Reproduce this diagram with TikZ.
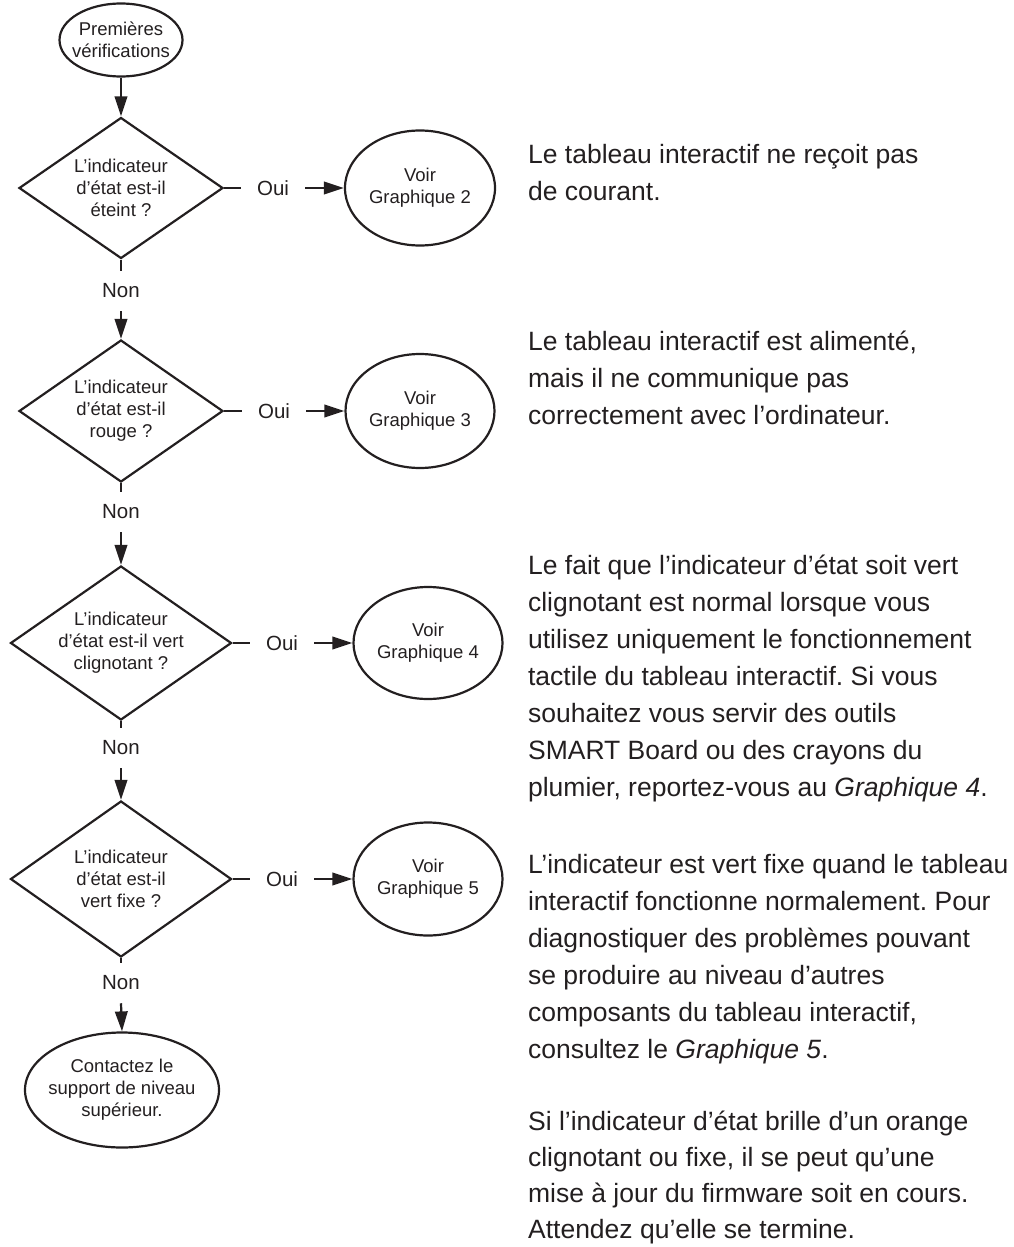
\documentclass[tikz,border=0pt]{standalone}
\usepackage{fontspec}
\setmainfont{Liberation Sans}
\usetikzlibrary{arrows.meta,shapes.geometric}
\definecolor{ink}{RGB}{35,31,32}
\frenchspacing

\begin{document}
\begin{tikzpicture}[x=1pt,y=-1pt,color=ink,line width=2.2pt,
  >={Triangle[length=20pt,width=12.5pt]},
  oval/.style={ellipse,draw,inner xsep=-8pt,inner ysep=0pt,align=center,font=\fontsize{18.5}{22}\selectfont},
  ask/.style={diamond,draw,aspect=1.44,inner sep=0pt,align=center,font=\fontsize{18.5}{22}\selectfont},
  yes/.style={inner xsep=15pt,inner ysep=0pt,font=\fontsize{20.5}{24}\selectfont},
  no/.style={inner xsep=0pt,inner ysep=12pt,font=\fontsize{20.5}{24}\selectfont},
  note/.style={anchor=north west,inner sep=0pt,align=left,font=\fontsize{26.5}{37}\selectfont}]
\useasboundingbox (0,0) rectangle (1014,1247);

\node[oval,minimum width=123pt,minimum height=73pt] (start) at (121,40) {Premières\\vérifications};
\node[ask,minimum width=204pt,minimum height=141pt] (q1) at (121,188) {L’indicateur\\d’état est-il\\éteint ?};
\node[ask,minimum width=204pt,minimum height=142pt] (q2) at (121,411) {L’indicateur\\d’état est-il\\rouge ?};
\node[ask,minimum width=221pt,minimum height=154pt] (q3) at (121,643) {L’indicateur\\d’état est-il vert\\clignotant ?};
\node[ask,minimum width=221pt,minimum height=156pt] (q4) at (121,879) {L’indicateur\\d’état est-il\\vert fixe ?};
\node[oval,minimum width=194pt,minimum height=115pt] (stop) at (122,1090) {Contactez le\\support de niveau\\supérieur.};

\node[oval,minimum width=150pt,minimum height=115pt] (g2) at (420,188) {Voir\\Graphique 2};
\node[oval,minimum width=149pt,minimum height=114pt] (g3) at (420,411) {Voir\\Graphique 3};
\node[oval,minimum width=149pt,minimum height=112pt] (g4) at (428,643) {Voir\\Graphique 4};
\node[oval,minimum width=149pt,minimum height=113pt] (g5) at (428,879) {Voir\\Graphique 5};

\node[yes] (oui1) at (273,188) {Oui};
\node[yes] (oui2) at (274,411) {Oui};
\node[yes] (oui3) at (282,643) {Oui};
\node[yes] (oui4) at (282,879) {Oui};
\node[no] (non1) at (121,291) {Non};
\node[no] (non2) at (121,512) {Non};
\node[no] (non3) at (121,748) {Non};
\node[no] (non4) at (121,983) {Non};

\draw[->] (start.south) -- (q1.north);
\draw (q1.east) -- (oui1.west);
\draw[->] (oui1.east) -- (g2.west);
\draw (q1.south) -- (non1.north);
\draw[->] (non1.south) -- (q2.north);
\draw (q2.east) -- (oui2.west);
\draw[->] (oui2.east) -- (g3.west);
\draw (q2.south) -- (non2.north);
\draw[->] (non2.south) -- (q3.north);
\draw (q3.east) -- (oui3.west);
\draw[->] (oui3.east) -- (g4.west);
\draw (q3.south) -- (non3.north);
\draw[->] (non3.south) -- (q4.north);
\draw (q4.east) -- (oui4.west);
\draw[->] (oui4.east) -- (g5.west);
\draw (q4.south) -- (non4.north);
\draw[->] (non4.south) -- (stop.north);

\node[note] (p1) at (527,143) {Le tableau interactif ne reçoit pas\\de courant.};
\node[note] (p2) at (527,330) {Le tableau interactif est alimenté,\\mais il ne communique pas\\correctement avec l’ordinateur.};
\node[note] (p3) at (527,554) {Le fait que l’indicateur d’état soit vert\\clignotant est normal lorsque vous\\utilisez uniquement le fonctionnement\\tactile du tableau interactif. Si vous\\souhaitez vous servir des outils\\SMART Board ou des crayons du\\plumier, reportez-vous au {\itshape Graphique 4}.};
\node[note] (p4) at (527,853) {L’indicateur est vert fixe quand le tableau\\interactif fonctionne normalement. Pour\\diagnostiquer des problèmes pouvant\\se produire au niveau d’autres\\composants du tableau interactif,\\consultez le {\itshape Graphique 5}.};
\node[note,font=\fontsize{26.5}{36}\selectfont] (p5) at (527,1110) {Si l’indicateur d’état brille d’un orange\\clignotant ou fixe, il se peut qu’une\\mise à jour du firmware soit en cours.\\Attendez qu’elle se termine.};
\end{tikzpicture}
\end{document}
